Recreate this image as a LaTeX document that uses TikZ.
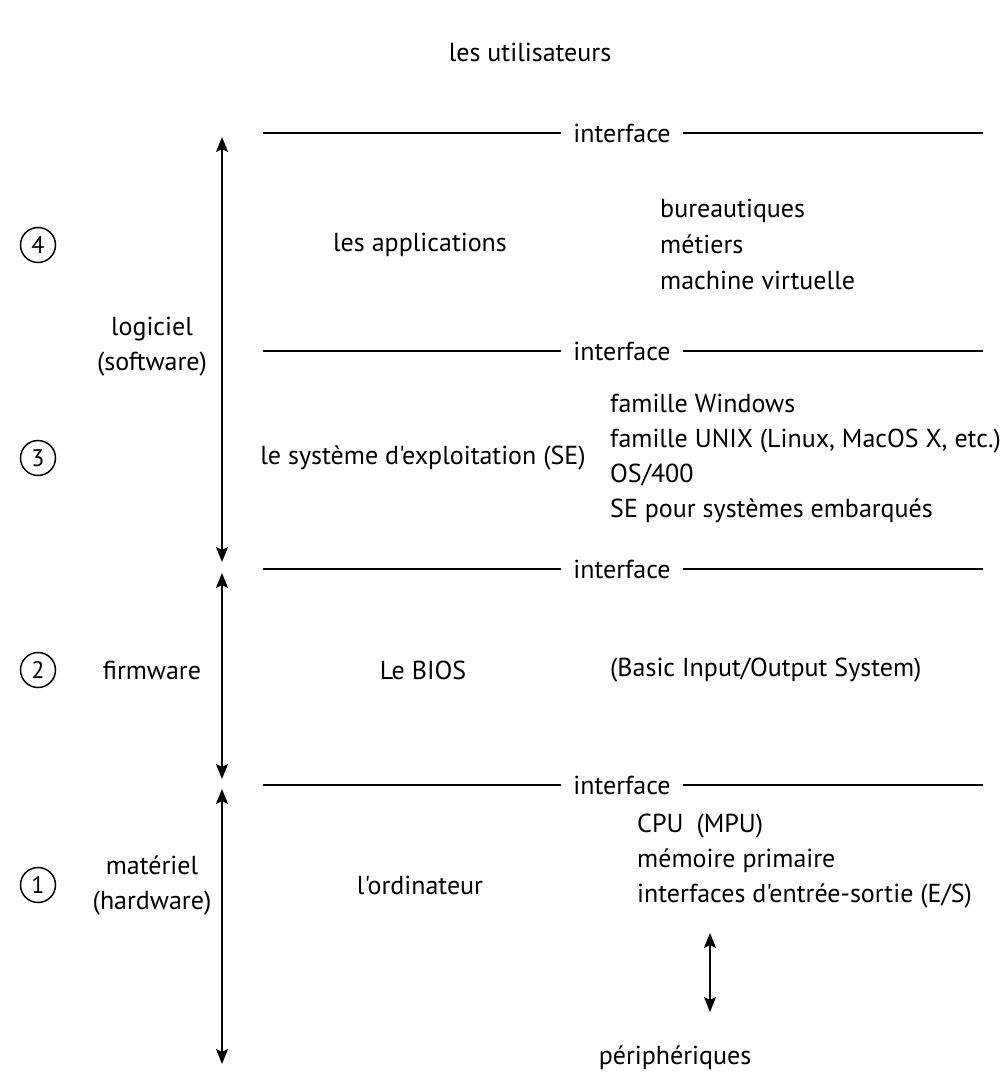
\documentclass[tikz,border=0pt]{standalone}
\usepackage{fontspec}
\setmainfont{PT Sans}[Ligatures=TeXOff]
\usetikzlibrary{arrows.meta}
\begin{document}
\begin{tikzpicture}[x=1pt,y=-1pt,
  every node/.style={font=\fontsize{26}{35}\selectfont, inner sep=0pt},
  lbl/.style={align=center},
  lst/.style={align=left, anchor=west},
  num/.style={draw, circle, line width=1.5pt, minimum size=35pt, font=\fontsize{24}{24}\selectfont},
  ifline/.style={line width=1.8pt},
  dbl/.style={line width=1.8pt, {Stealth[length=15pt,width=12pt,inset=3pt]}-{Stealth[length=15pt,width=12pt,inset=3pt]}}
]
\useasboundingbox (0,0) rectangle (1000,1075);

\node (users) at (530,52) {les utilisateurs};

% interface lines
\foreach \n/\y in {a/133,b/351,c/569,d/785}{
  \coordinate (L\n) at (263,\y);
  \coordinate (R\n) at (983,\y);
  \node[inner xsep=12pt] (I\n) at (622,\y) {interface};
  \draw[ifline] (L\n) -- (I\n.west);
  \draw[ifline] (I\n.east) -- (R\n);
}

% circled numbers
\node[num] (n4) at (38,245) {4};
\node[num] (n3) at (38,458) {3};
\node[num] (n2) at (38,670) {2};
\node[num] (n1) at (38,885) {1};

% left labels
\node[lbl] (soft) at (152,347) {logiciel\\(software)};
\node[lbl] (firm) at (152,670) {firmware};
\node[lbl] (hard) at (152,885) {matériel\\(hardware)};

% vertical arrows
\coordinate (s1) at (222,137); \coordinate (e1) at (222,562);
\coordinate (s2) at (222,573); \coordinate (e2) at (222,779);
\coordinate (s3) at (222,789); \coordinate (e3) at (222,1064);
\draw[dbl] (s1) -- (e1);
\draw[dbl] (s2) -- (e2);
\draw[dbl] (s3) -- (e3);

% middle column
\node (apps) at (420,245) {les applications};
\node (se) at (423,458) {le système d'exploitation (SE)};
\node (bios) at (423,670) {Le BIOS};
\node (ordi) at (420,885) {l'ordinateur};

% right lists
\node[lst] (applist) at (660,244) {bureautiques\\[1pt]métiers\\[1pt]machine virtuelle};
\node[lst] (selist) at (610,458) {famille Windows\\famille UNIX (Linux, MacOS X, etc.)\\OS/400\\SE pour systèmes embarqués};
\node[lst] (biosx) at (610,670) {(Basic Input/Output System)};
\node[lst] (hwlist) at (637,861) {CPU\enspace(MPU)\\mémoire primaire\\interfaces d'entrée-sortie (E/S)};
\node (peri) at (675,1058) {périphériques};
\coordinate (pa) at (710,933);
\coordinate (pb) at (710,1012);
\draw[dbl] (pa) -- (pb);
\end{tikzpicture}
\end{document}
